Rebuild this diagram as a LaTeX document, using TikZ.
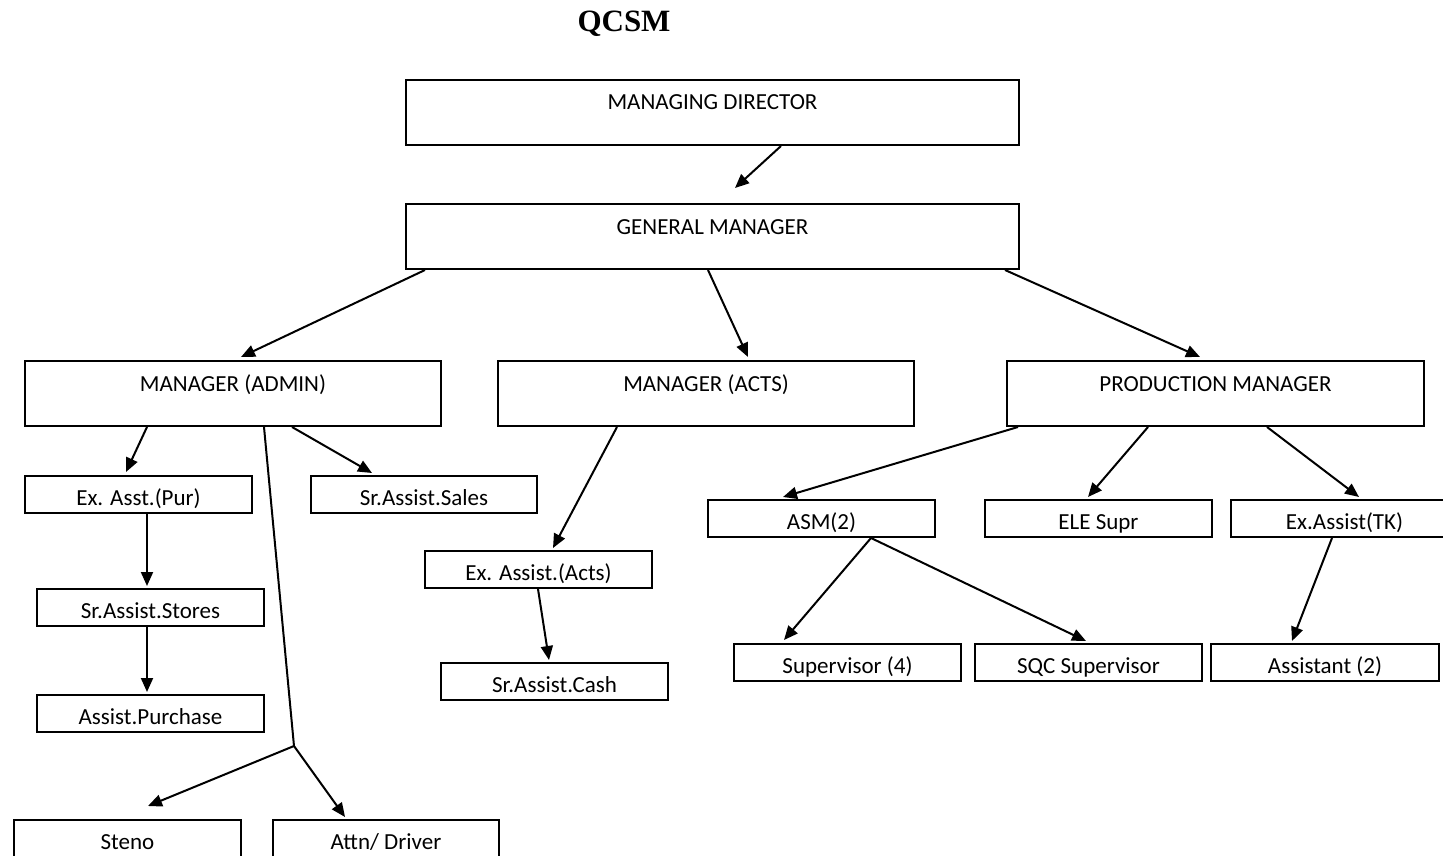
\documentclass[tikz,border=0pt]{standalone}
\usepackage{fontspec}
\setmainfont{Carlito}
\newfontfamily\titlefont{Liberation Serif}
\usetikzlibrary{arrows.meta}

\begin{document}
\begin{tikzpicture}[x=1pt,y=-1pt,
  every node/.style={font=\fontsize{23}{27}\selectfont},
  bigbox/.style={draw, line width=2pt, anchor=north west, inner sep=0pt,
    text height=30pt, text depth=35pt},
  smallbox/.style={draw, line width=2pt, anchor=north west, inner sep=0pt,
    text height=29pt, text depth=8pt},
  link/.style={line width=2pt, -{Triangle[length=14pt,width=12pt]}},
  plain/.style={line width=2pt}
]
\useasboundingbox (0,0) rectangle (1443,856);

% title
\node[font=\titlefont\bfseries\fontsize{31}{36}\selectfont] (title) at (624,24) {QCSM};

% top levels
\node[bigbox, minimum width=613pt] (md) at (405,79) {MANAGING DIRECTOR};
\node[bigbox, minimum width=613pt] (gm) at (405,203) {GENERAL MANAGER};
\node[bigbox, minimum width=416pt] (adm) at (24,360) {MANAGER (ADMIN)};
\node[bigbox, minimum width=416pt] (acts) at (497,360) {MANAGER (ACTS)};
\node[bigbox, minimum width=417pt] (prod) at (1006,360) {PRODUCTION MANAGER};

% admin branch
\node[smallbox, minimum width=227pt] (pur) at (24,475) {Ex. Asst.(Pur)};
\node[smallbox, minimum width=226pt] (sales) at (310,475) {Sr.Assist.Sales};
\node[smallbox, minimum width=227pt] (stores) at (36,588) {Sr.Assist.Stores};
\node[smallbox, minimum width=227pt] (purch) at (36,694) {Assist.Purchase};
\node[smallbox, minimum width=227pt] (steno) at (13,819) {Steno};
\node[smallbox, minimum width=226pt] (attn) at (272,819) {Attn/ Driver};

% accounts branch
\node[smallbox, minimum width=227pt] (exacts) at (424,550) {Ex. Assist.(Acts)};
\node[smallbox, minimum width=227pt] (cash) at (440,662) {Sr.Assist.Cash};

% production branch
\node[smallbox, minimum width=227pt] (asm) at (707,499) {ASM(2)};
\node[smallbox, minimum width=227pt] (ele) at (984,499) {ELE Supr};
\node[smallbox, minimum width=227pt] (tk) at (1230,499) {Ex.Assist(TK)};
\node[smallbox, minimum width=227pt] (sup) at (733,643) {Supervisor (4)};
\node[smallbox, minimum width=227pt] (sqc) at (974,643) {SQC Supervisor};
\node[smallbox, minimum width=228pt] (asst) at (1210,643) {Assistant (2)};

\coordinate (j) at (294,746);

% connectors
\draw[link] ([xshift=376pt]md.south west) -- ([xshift=330pt,yshift=15pt]gm.north west);
\draw[link] ([xshift=20pt]gm.south west) -- ([xshift=217pt,yshift=3pt]adm.north west);
\draw[link] ([xshift=303pt]gm.south west) -- ([xshift=251pt,yshift=3pt]acts.north west);
\draw[link] ([xshift=600pt]gm.south west) -- ([xshift=194pt,yshift=3pt]prod.north west);

\draw[link] ([xshift=123pt]adm.south west) -- ([xshift=102pt,yshift=3pt]pur.north west);
\draw[link] ([xshift=268pt]adm.south west) -- ([xshift=62pt,yshift=2pt]sales.north west);
\draw[plain] ([xshift=240pt]adm.south west) -- (j);
\draw[link] (j) -- ([xshift=135pt,yshift=13pt]steno.north west);
\draw[link] (j) -- ([xshift=73pt,yshift=2pt]attn.north west);
\draw[link] ([xshift=123pt]pur.south west) -- ([xshift=111pt,yshift=2pt]stores.north west);
\draw[link] ([xshift=111pt]stores.south west) -- ([xshift=111pt,yshift=2pt]purch.north west);

\draw[link] ([xshift=120pt]acts.south west) -- ([xshift=129pt,yshift=2pt]exacts.north west);
\draw[link] ([xshift=114pt]exacts.south west) -- ([xshift=109pt,yshift=2pt]cash.north west);

\draw[link] ([xshift=12pt]prod.south west) -- ([xshift=76pt,yshift=2pt]asm.north west);
\draw[link] ([xshift=142pt]prod.south west) -- ([xshift=104pt,yshift=2pt]ele.north west);
\draw[link] ([xshift=261pt]prod.south west) -- ([xshift=129pt,yshift=2pt]tk.north west);
\draw[link] ([xshift=164pt]asm.south west) -- ([xshift=51pt,yshift=3pt]sup.north west);
\draw[link] ([xshift=164pt]asm.south west) -- ([xshift=112pt,yshift=2pt]sqc.north west);
\draw[link] ([xshift=102pt]tk.south west) -- ([xshift=82pt,yshift=2pt]asst.north west);
\end{tikzpicture}
\end{document}
